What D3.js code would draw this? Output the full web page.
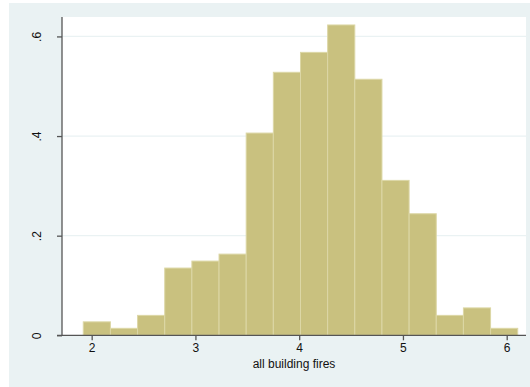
<!DOCTYPE html>
<html>
<head>
<meta charset="utf-8">
<script src="https://cdn.jsdelivr.net/npm/d3@7"></script>
<style>
  html, body { margin: 0; padding: 0; background: #ffffff; }
  svg { display: block; font-family: "Liberation Sans", Arial, Helvetica, sans-serif; }
</style>
</head>
<body>
<svg id="chart" width="530" height="387"></svg>
<script>
// Histogram of log building fires: bin edges start and width, densities per bin
const binStart = 1.919;
const binWidth = 0.2617;
const densities = [0.027, 0.014, 0.040, 0.135, 0.149, 0.163, 0.406, 0.528,
                   0.568, 0.623, 0.514, 0.311, 0.244, 0.040, 0.055, 0.014];
const xTicks = [2, 3, 4, 5, 6];
const yTicks = [0, 0.2, 0.4, 0.6];
const yTickLabels = ["0", ".2", ".4", ".6"];
const xTitle = "all building fires";

const svg = d3.select("#chart");
const W = 530, H = 387;

// outer graph region
svg.append("rect").attr("x", 9).attr("y", 3).attr("width", W - 9).attr("height", H - 3)
  .attr("fill", "#eaf2f3");

const plot = { left: 62, right: 526, top: 17, bottom: 335.3 };

// plot region
svg.append("rect").attr("x", plot.left).attr("y", plot.top)
  .attr("width", plot.right - plot.left).attr("height", plot.bottom - plot.top)
  .attr("fill", "#ffffff");

const x = d3.scaleLinear().domain([1.714, 6.186]).range([plot.left, plot.right]);
const y = d3.scaleLinear().domain([0, 0.639]).range([plot.bottom, plot.top]);

// horizontal grid lines
svg.append("g").selectAll("line").data(yTicks.filter(d => d > 0)).join("line")
  .attr("x1", plot.left).attr("x2", plot.right)
  .attr("y1", d => y(d)).attr("y2", d => y(d))
  .attr("stroke", "#eaf2f3").attr("stroke-width", 1.2);

// bars
const bins = densities.map((d, i) => ({ x0: binStart + i * binWidth, x1: binStart + (i + 1) * binWidth, v: d }));
svg.append("g").selectAll("rect").data(bins).join("rect")
  .attr("x", d => x(d.x0))
  .attr("y", d => y(d.v))
  .attr("width", d => x(d.x1) - x(d.x0))
  .attr("height", d => y(0) - y(d.v))
  .attr("fill", "#c9c17f")
  .attr("stroke", "#dcd7a6")
  .attr("stroke-width", 1);

// y axis
const yAxis = d3.axisLeft(y).tickValues(yTicks).tickSize(5).tickPadding(0)
  .tickFormat((d, i) => yTickLabels[i]);
const gy = svg.append("g").attr("transform", `translate(${plot.left},0)`).call(yAxis);
gy.select(".domain").attr("stroke", "#555555").attr("stroke-width", 1.3)
  .attr("d", `M0,${plot.top}V${plot.bottom}`);
gy.selectAll(".tick line").attr("stroke", "#555555").attr("stroke-width", 1.3);
gy.selectAll(".tick text")
  .attr("x", 0).attr("y", 0)
  .attr("transform", "translate(-25,0) rotate(-90)")
  .attr("text-anchor", "middle")
  .attr("dy", "0.35em")
  .attr("font-size", 12).attr("fill", "#111111")
  .attr("font-family", "Liberation Sans, Arial, sans-serif");

// x axis
const xAxis = d3.axisBottom(x).tickValues(xTicks).tickSize(5).tickPadding(3)
  .tickFormat(d3.format("d"));
const gx = svg.append("g").attr("transform", `translate(0,${plot.bottom})`).call(xAxis);
gx.select(".domain").attr("stroke", "#555555").attr("stroke-width", 1.3)
  .attr("d", `M${plot.left - 5},0H${plot.right}`);
gx.selectAll(".tick line").attr("stroke", "#555555").attr("stroke-width", 1.3);
gx.selectAll(".tick text")
  .attr("font-size", 12).attr("fill", "#111111")
  .attr("font-family", "Liberation Sans, Arial, sans-serif");

// x axis title
svg.append("text")
  .attr("x", (plot.left + plot.right) / 2 + 0)
  .attr("y", 368)
  .attr("text-anchor", "middle")
  .attr("font-size", 12).attr("fill", "#111111")
  .text(xTitle);
</script>
</body>
</html>
